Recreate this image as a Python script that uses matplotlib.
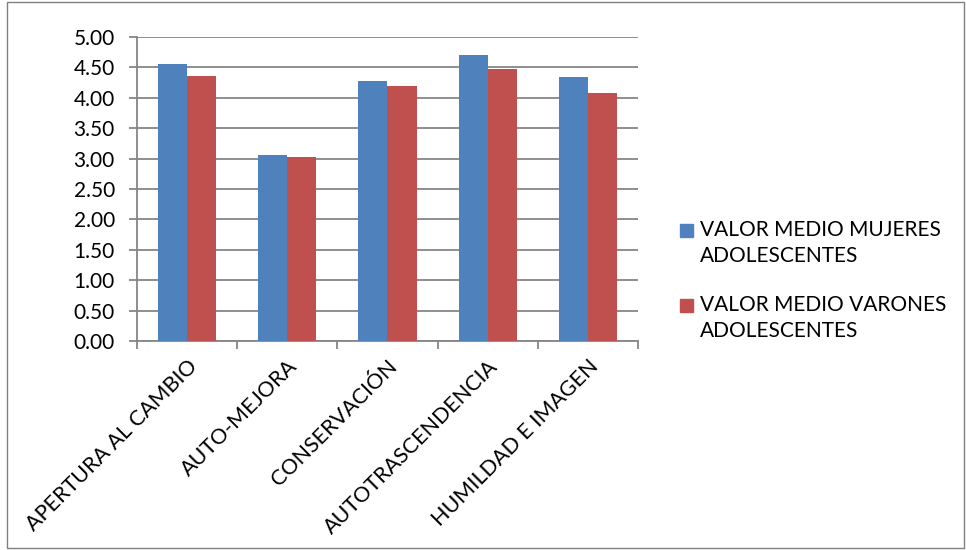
import matplotlib
matplotlib.use('Agg')
import matplotlib.pyplot as plt
from matplotlib.patches import Rectangle
import numpy as np

plt.rcParams['font.family'] = ['Lato', 'DejaVu Sans']

categories = ['APERTURA AL CAMBIO', 'AUTO-MEJORA', 'CONSERVACIÓN',
              'AUTOTRASCENDENCIA', 'HUMILDAD E IMAGEN']
mujeres = [4.56, 3.06, 4.27, 4.70, 4.34]
varones = [4.36, 3.02, 4.19, 4.47, 4.08]
series_labels = ['VALOR MEDIO MUJERES\nADOLESCENTES',
                 'VALOR MEDIO VARONES\nADOLESCENTES']
yticks = np.arange(0, 5.01, 0.5)

blue = '#4F81BD'
red = '#C0504D'
grid_col = '#868686'

fig = plt.figure(figsize=(9.66, 5.5), dpi=100)
ax = fig.add_axes([0.1418, 0.38, 0.5186, 0.553])

x = np.arange(len(categories))
w = 0.29
ax.bar(x - w / 2, mujeres, w, color=blue, zorder=3)
ax.bar(x + w / 2, varones, w, color=red, zorder=3)

ax.set_xlim(-0.5, len(categories) - 0.5)
ax.set_ylim(0, 5)
ax.set_yticks(yticks)
ax.set_yticklabels(['%.2f' % v for v in yticks], fontsize=15)
ax.yaxis.grid(True, color=grid_col, linewidth=1.3, zorder=0)

ax.set_xticks(x)
ax.set_xticklabels(categories, rotation=45, ha='right', rotation_mode='anchor',
                   fontsize=15.5)
ax.tick_params(axis='x', length=0, pad=11)
ax.set_xticks(np.arange(-0.5, len(categories)), minor=True)
ax.tick_params(axis='x', which='minor', length=6, color=grid_col, width=1.3)
ax.tick_params(axis='y', length=6, color=grid_col, width=1.3, pad=10)

for s in ['top', 'right']:
    ax.spines[s].set_visible(False)
for s in ['left', 'bottom']:
    ax.spines[s].set_color(grid_col)
    ax.spines[s].set_linewidth(1.3)

# legend drawn by hand so the square sits on the first text line
W, H = 966.0, 550.0
for i, (lab, col) in enumerate(zip(series_labels, [blue, red])):
    top = 222 + i * 75
    fig.patches.append(Rectangle((680 / W, 1 - (top + 15) / H), 13 / W, 13 / H,
                                 transform=fig.transFigure, color=col))
    fig.text(700 / W, 1 - (top - 2) / H, lab, fontsize=15, va='top', ha='left',
             linespacing=1.4)

fig.patches.append(Rectangle((0.007, 0.004), 0.991, 0.992, transform=fig.transFigure,
                             fill=False, edgecolor='#808080', linewidth=1))

fig.savefig('out.png', dpi=100)
